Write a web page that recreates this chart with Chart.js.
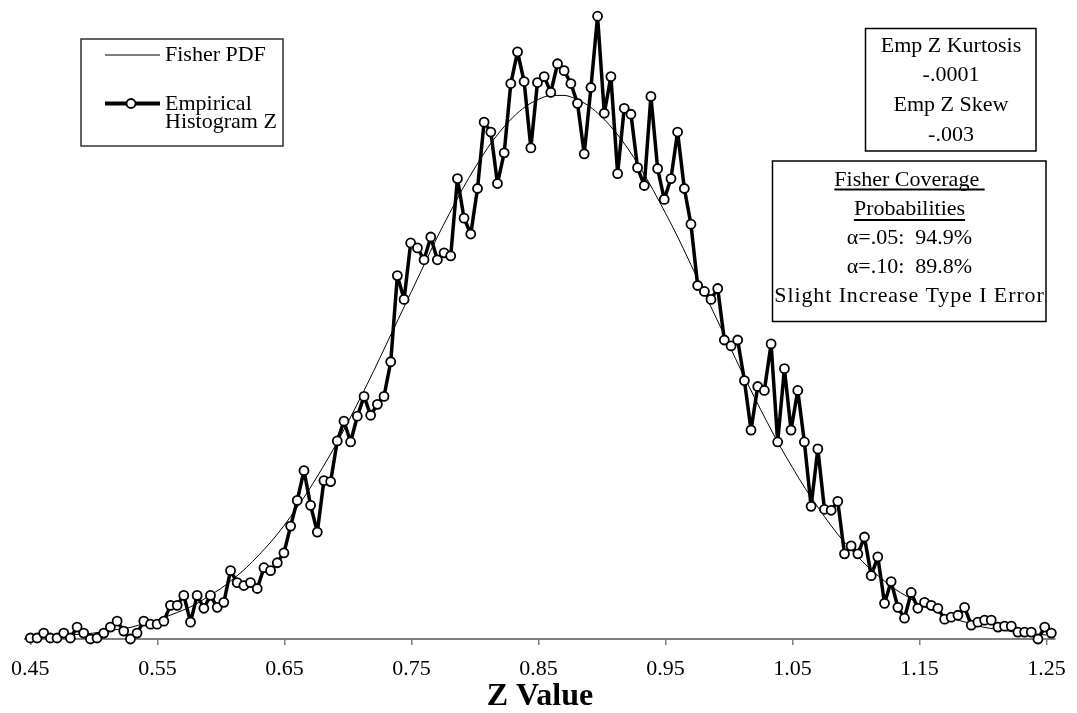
<!DOCTYPE html>
<html>
<head>
<meta charset="utf-8">
<script src="https://cdn.jsdelivr.net/npm/chart.js@4.4.0/dist/chart.umd.min.js"></script>
<style>
  html, body { margin: 0; padding: 0; background: #fff; }
</style>
</head>
<body>
<canvas id="chart" width="1077" height="713"></canvas>
<script>
// Empirical histogram of Z (bin heights, arbitrary units)
const binStart = 0.45;
const binWidth = 0.005253;
const empHist = [
  1, 1, 6, 1, 1, 6, 1, 12, 6, 0,
  1, 6, 12, 18, 8, 0, 6, 18, 15, 15,
  18, 34, 34, 44, 17, 44, 31, 44, 32, 37,
  69, 57, 54, 57, 51, 72, 69, 77, 87, 114,
  140, 170, 135, 108, 160, 159, 200, 220, 199, 225,
  245, 226, 237, 245, 280, 367, 343, 400, 395, 383,
  406, 383, 390, 387, 465, 425, 409, 455, 522, 512,
  460, 491, 561, 593, 563, 496, 562, 568, 552, 581,
  574, 561, 541, 490, 557, 629, 531, 568, 470, 536,
  530, 476, 458, 548, 475, 444, 465, 512, 455, 419,
  357, 351, 343, 354, 302, 296, 302, 261, 211, 255,
  251, 298, 199, 273, 211, 251, 199, 134, 192, 131,
  130, 139, 86, 94, 86, 103, 64, 83, 36, 58,
  32, 21, 47, 31, 37, 34, 31, 20, 22, 24,
  32, 14, 17, 19, 19, 12, 13, 13, 7, 7,
  7, 0, 12, 6
];
const zBins = empHist.map((_, i) => +(binStart + i * binWidth).toFixed(4));

// Fisher PDF read every 0.01 from 0.45 to 1.25
const fisherPdf = [
  2, 2, 3, 4, 5, 6, 8, 10, 12, 16,
  19, 24, 29, 35, 43, 51, 61, 72, 85, 99,
  115, 133, 152, 173, 195, 219, 244, 270, 297, 324,
  351, 378, 405, 430, 454, 476, 496, 513, 527, 538,
  545, 549, 549, 545, 538, 527, 513, 496, 476, 454,
  430, 405, 378, 351, 324, 297, 270, 244, 219, 195,
  173, 152, 133, 115, 99, 85, 72, 61, 51, 43,
  35, 29, 24, 19, 16, 12, 10, 8, 6, 5, 4
];
const pdfZ = fisherPdf.map((_, i) => +(0.45 + i * 0.01).toFixed(2));

const tickValues = [0.45, 0.55, 0.65, 0.75, 0.85, 0.95, 1.05, 1.15, 1.25];
const tickLabels = ['0.45', '0.55', '0.65', '0.75', '0.85', '0.95', '1.05', '1.15', '1.25'];

const statLines = ['Emp Z Kurtosis', '-.0001', 'Emp Z Skew', '-.003'];
const coverageLines = ['Fisher Coverage ', 'Probabilities', '\u03b1=.05:  94.9%', '\u03b1=.10:  89.8%', 'Slight Increase Type I Error'];

const serif = '22px "Liberation Serif", "Times New Roman", serif';

// legend and the two text boxes
const overlay = {
  id: 'overlay',
  afterDraw(chart) {
    const ctx = chart.ctx;
    ctx.save();
    ctx.font = serif;
    ctx.fillStyle = '#000';
    ctx.textBaseline = 'alphabetic';

    // legend
    ctx.strokeStyle = '#333';
    ctx.lineWidth = 1.5;
    ctx.strokeRect(81, 39, 202, 107);
    ctx.strokeStyle = '#000';
    ctx.lineWidth = 1;
    ctx.beginPath(); ctx.moveTo(105, 55); ctx.lineTo(160, 55); ctx.stroke();
    ctx.lineWidth = 4;
    ctx.beginPath(); ctx.moveTo(105, 103.5); ctx.lineTo(160, 103.5); ctx.stroke();
    ctx.lineWidth = 1.8;
    ctx.fillStyle = '#fff';
    ctx.beginPath(); ctx.arc(131, 103.5, 4.5, 0, Math.PI * 2); ctx.fill(); ctx.stroke();
    ctx.fillStyle = '#000';
    ctx.textAlign = 'left';
    ctx.fillText('Fisher PDF', 165, 61);
    ctx.fillText('Empirical', 165, 110);
    ctx.fillText('Histogram Z', 165, 127.5);

    // kurtosis / skew box
    ctx.lineWidth = 1.5;
    ctx.strokeRect(865.5, 28.5, 170.5, 122.5);
    ctx.textAlign = 'center';
    statLines.forEach((t, i) => ctx.fillText(t, 951, 51.5 + i * 29.7));

    // coverage box
    ctx.strokeRect(772.5, 161, 273.5, 160.5);
    coverageLines.forEach((t, i) => {
      const y = 186 + i * 28.9;
      ctx.letterSpacing = i === 4 ? '0.9px' : '0px';
      ctx.fillText(t, 909.5, y);
      if (i < 2) {
        const w = ctx.measureText(t).width;
        const off = i === 0 ? 3.5 : 5;
        ctx.lineWidth = 2;
        ctx.beginPath();
        ctx.moveTo(909.5 - w / 2, y + off);
        ctx.lineTo(909.5 + w / 2, y + off);
        ctx.stroke();
      }
    });
    ctx.restore();
  }
};

new Chart(document.getElementById('chart'), {
  type: 'line',
  data: {
    datasets: [
      {
        label: 'Empirical Histogram Z',
        data: empHist.map((v, i) => ({ x: zBins[i], y: v })),
        borderColor: '#000',
        borderWidth: 3.5,
        borderJoinStyle: 'round',
        pointRadius: 4.5,
        pointBorderWidth: 1.8,
        pointBackgroundColor: '#fff',
        pointBorderColor: '#000',
        tension: 0,
        clip: false,
        order: 1
      },
      {
        label: 'Fisher PDF',
        data: fisherPdf.map((v, i) => ({ x: pdfZ[i], y: v })),
        borderColor: '#000',
        borderWidth: 1,
        pointRadius: 0,
        cubicInterpolationMode: 'monotone',
        clip: false,
        order: 2
      }
    ]
  },
  options: {
    responsive: false,
    animation: false,
    devicePixelRatio: 1,
    layout: { padding: { left: 25, right: 17, top: 0, bottom: 0 } },
    plugins: {
      legend: { display: false },
      tooltip: { enabled: false }
    },
    scales: {
      x: {
        type: 'linear',
        min: 0.44609,
        max: 1.25627,
        afterBuildTicks: (scale) => { scale.ticks = tickValues.map(v => ({ value: v })); },
        afterFit: (scale) => { scale.height = 74; },
        grid: { drawOnChartArea: false, drawTicks: true, tickLength: 6, color: '#808080', lineWidth: 1.5 },
        border: { display: true, color: '#808080', width: 2 },
        ticks: {
          autoSkip: false,
          maxRotation: 0,
          padding: 11,
          color: '#000',
          font: { family: '"Liberation Serif", "Times New Roman", serif', size: 22 },
          callback: (value, index) => tickLabels[index]
        },
        title: {
          display: true,
          text: 'Z Value',
          color: '#000',
          padding: { top: 0, bottom: 0 },
          font: { family: '"Liberation Serif", "Times New Roman", serif', size: 32, weight: 'bold', lineHeight: 1 }
        }
      },
      y: {
        display: false,
        min: 0,
        max: 639
      }
    }
  },
  plugins: [overlay]
});
</script>
</body>
</html>
